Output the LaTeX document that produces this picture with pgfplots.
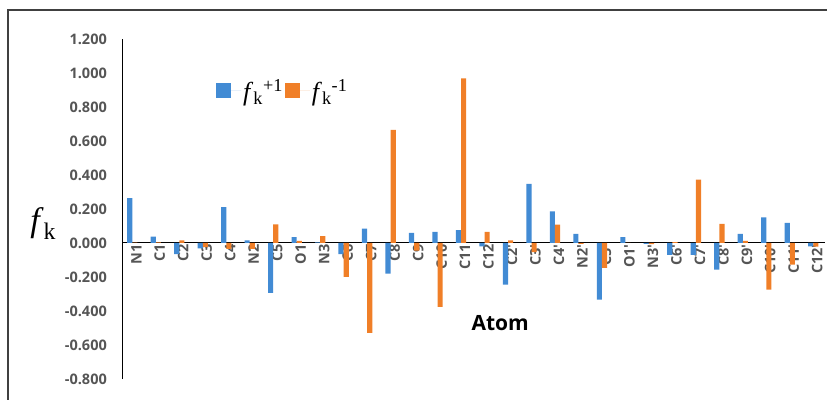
\documentclass[border=0pt]{standalone}
\usepackage{pgfplots}
\usepackage{pgfplotstable}
\pgfplotsset{compat=1.18}
\usepackage{fontspec}
\setmainfont{Open Sans}
\newfontfamily\tnr{Liberation Serif}
\definecolor{barblue}{RGB}{66,139,212}
\definecolor{barorange}{RGB}{240,127,40}
\definecolor{tickgray}{RGB}{85,85,85}
\newcommand\p{\textquotesingle}
\newcommand\tl[1]{{\fontsize{14.5}{17}\selectfont\bfseries\color{tickgray}#1}}

\pgfplotstableread{
x plus minus
0 0.264 0.002
1 0.037 0.003
2 -0.065 0.015
3 -0.032 -0.024
4 0.211 -0.035
5 0.015 -0.035
6 -0.294 0.110
7 0.035 0.012
8 0.003 0.041
9 -0.065 -0.200
10 0.084 -0.529
11 -0.180 0.665
12 0.059 -0.045
13 0.066 -0.376
14 0.076 0.969
15 -0.020 0.065
16 -0.245 0.015
17 0.348 -0.053
18 0.186 0.108
19 0.053 -0.005
20 -0.333 -0.147
21 0.035 0.000
22 -0.005 -0.007
23 -0.070 0.005
24 -0.070 0.373
25 -0.157 0.112
26 0.053 0.012
27 0.150 -0.274
28 0.119 -0.127
29 -0.020 -0.022
}\datatable

\begin{document}
\begin{tikzpicture}
\useasboundingbox (0,0) rectangle (827pt,399pt);
\draw[black!75, line width=1.2pt] (8pt,-5pt) -- (8pt,389pt) -- (835pt,389pt);
\begin{axis}[
  at={(122pt,20pt)}, anchor=south west,
  scale only axis, width=703pt, height=340pt,
  xmin=-0.44, xmax=29.5, ymin=-0.8, ymax=1.2,
  axis x line=middle, axis y line=left,
  axis line style={-, black, line width=1pt},
  major tick length=0pt,
  ybar=0pt, bar width=0.22,
  xtick={0,...,29},
  xticklabels={\tl{N1},\tl{C1},\tl{C2},\tl{C3},\tl{C4},\tl{N2},\tl{C5},\tl{O1},\tl{N3},\tl{C6},\tl{C7},\tl{C8},\tl{C9},\tl{C10},\tl{C11},\tl{C12},\tl{C2\p},\tl{C3\p},\tl{C4\p},\tl{N2\p},\tl{C5\p},\tl{O1\p},\tl{N3\p},\tl{C6\p},\tl{C7\p},\tl{C8\p},\tl{C9\p},\tl{C10\p},\tl{C11\p},\tl{C12\p}},
  xticklabel style={rotate=90, anchor=east, inner sep=1pt, yshift=-4pt},
  ytick={-0.8,-0.6,-0.4,-0.2,0,0.2,0.4,0.6,0.8,1.0,1.2},
  yticklabels={\tl{-0.800},\tl{-0.600},\tl{-0.400},\tl{-0.200},\tl{0.000},\tl{0.200},\tl{0.400},\tl{0.600},\tl{0.800},\tl{1.000},\tl{1.200}},
  yticklabel style={anchor=east, inner sep=0pt, xshift=-15pt},
  every axis x label/.style={at={(axis description cs:0.538,0.1656)}, anchor=center, font=\fontsize{21}{24}\selectfont\bfseries, text=black},
  xlabel={Atom},
  every axis y label/.style={at={(axis description cs:-0.112,0.456)}, anchor=center, rotate=0},
  ylabel={{\tnr\fontsize{34}{36}\selectfont\itshape f\/\upshape\textsubscript{k}}},
  legend columns=2,
  legend style={draw=none, fill=none, at={(axis description cs:0.1337,0.848)}, anchor=west,
    /tikz/every even column/.append style={column sep=0pt}, inner sep=0pt},
  legend image code/.code={\fill[#1] (0pt,-7.5pt) rectangle (15pt,7.5pt); \path (0pt,0pt) -- (25pt,0pt);},
]
\addplot[fill=barblue, draw=none] table[x=x,y=plus]{\datatable};
\addlegendentry{{\tnr\fontsize{26}{28}\selectfont\itshape f\/\upshape\textsubscript{k}\textsuperscript{+1}}}
\addplot[fill=barorange, draw=none] table[x=x,y=minus]{\datatable};
\addlegendentry{{\tnr\fontsize{26}{28}\selectfont\itshape f\/\upshape\textsubscript{k}\textsuperscript{-1}}}
\end{axis}
\end{tikzpicture}
\end{document}
